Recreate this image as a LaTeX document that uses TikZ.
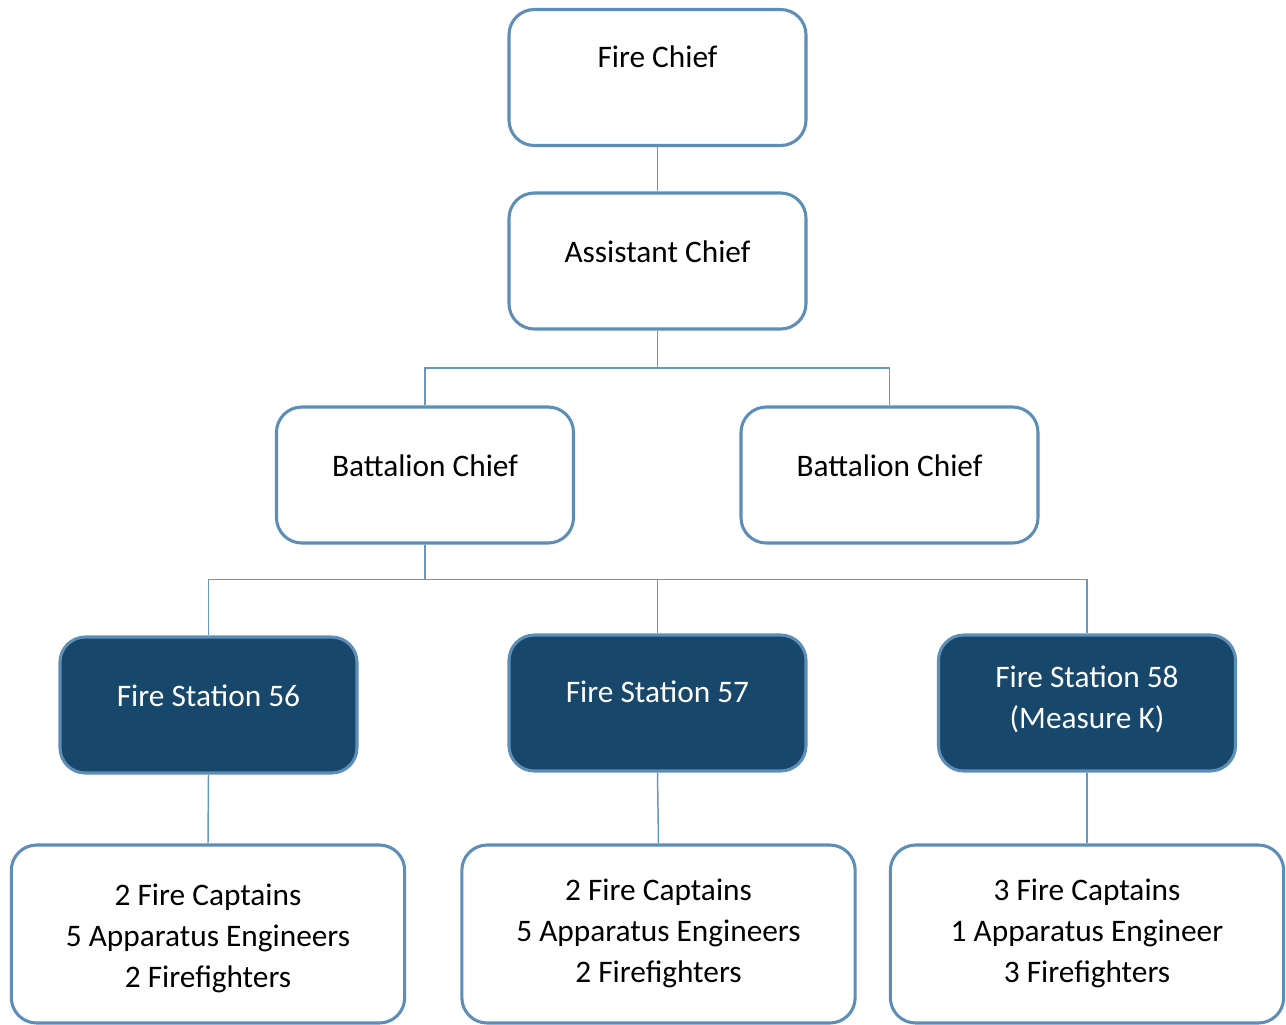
\documentclass[tikz,border=0pt]{standalone}
\usepackage{fontspec}
\setmainfont{Carlito}
\definecolor{edgeblue}{RGB}{92,142,184}
\definecolor{linkblue}{RGB}{104,152,190}
\definecolor{stationfill}{RGB}{23,71,106}
\tikzset{
  orgbox/.style={draw=edgeblue, line width=2.3pt, rounded corners=19pt,
    fill=white, minimum width=222.75pt, minimum height=102pt, inner sep=0pt},
  stationbox/.style={orgbox, fill=stationfill},
  staffbox/.style={orgbox, minimum width=295pt, minimum height=133.5pt},
  lbl/.style={font=\fontsize{23.5}{30.75}\selectfont, align=center, text=black, inner sep=0pt},
  wlbl/.style={lbl, text=white},
  link/.style={draw=linkblue, line width=1.1pt}
}
\begin{document}
\begin{tikzpicture}[x=0.75pt, y=-0.75pt]
\useasboundingbox (0,0) rectangle (1286,1025);

% management chain
\node[orgbox] (chief) at (657.5,77.5) {};
\node[lbl] (chief-t) at (657.5,57) {Fire Chief};
\node[orgbox] (asst) at (657.5,261) {};
\node[lbl] (asst-t) at (657.5,252) {Assistant Chief};
\node[orgbox] (bc1) at (425,475) {};
\node[lbl] (bc1-t) at (425,466) {Battalion Chief};
\node[orgbox] (bc2) at (889.5,475) {};
\node[lbl] (bc2-t) at (889.5,466) {Battalion Chief};

% stations
\node[stationbox] (fs56) at (208.5,705) {};
\node[wlbl] (fs56-t) at (208.5,696) {Fire Station 56};
\node[stationbox] (fs57) at (657.5,703) {};
\node[wlbl] (fs57-t) at (657.5,692) {Fire Station 57};
\node[stationbox] (fs58) at (1087,703) {};
\node[wlbl] (fs58-t) at (1087,699) {Fire Station 58\\(Measure K)};

% station staffing
\node[staffbox] (st56) at (208,934) {};
\node[lbl] (st56-t) at (208,938) {2 Fire Captains\\5 Apparatus Engineers\\2 Firefighters};
\node[staffbox] (st57) at (658.5,934) {};
\node[lbl] (st57-t) at (658.5,933) {2 Fire Captains\\5 Apparatus Engineers\\2 Firefighters};
\node[staffbox] (st58) at (1087,934) {};
\node[lbl] (st58-t) at (1087,933) {3 Fire Captains\\1 Apparatus Engineer\\3 Firefighters};

% connectors
\coordinate (busA) at (657.5,368);
\path (bc1.south) ++(0,35) coordinate (busB);
\draw[link] (chief.south) -- (asst.north);
\draw[link] (asst.south) -- (busA);
\draw[link] (busA) -| (bc1.north);
\draw[link] (busA) -| (bc2.north);
\draw[link] (bc1.south) -- (busB);
\draw[link] (busB) -| (fs56.north);
\draw[link] (busB) -| (fs57.north);
\draw[link] (busB) -| (fs58.north);
\draw[link] (fs56.south) -- (st56.north);
\draw[link] (fs57.south) -- (st57.north);
\draw[link] (fs58.south) -- (st58.north);
\end{tikzpicture}
\end{document}
